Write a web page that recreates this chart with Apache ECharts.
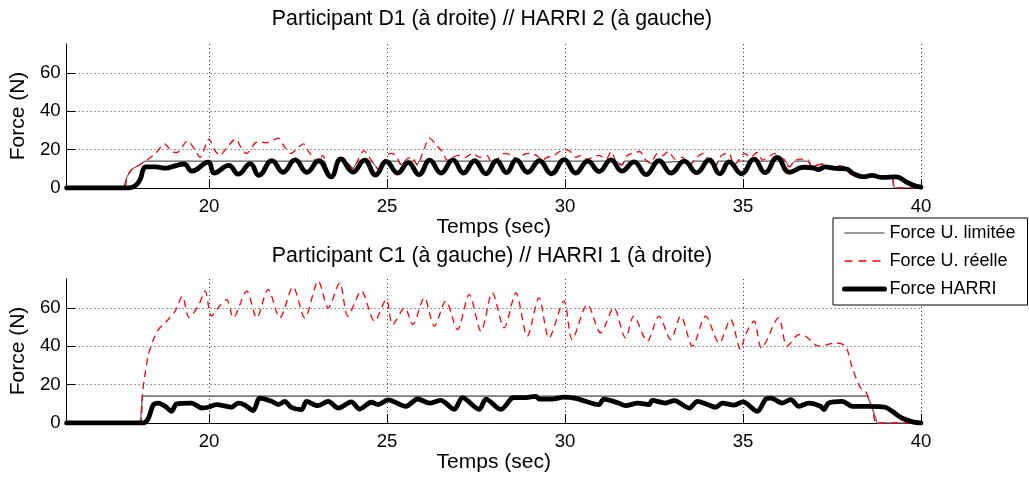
<!DOCTYPE html>
<html>
<head>
<meta charset="utf-8">
<script src="https://cdn.jsdelivr.net/npm/echarts@6/dist/echarts.min.js"></script>
<style>
  html, body { margin: 0; padding: 0; background: #fff; }
  #chart { width: 1029px; height: 487px; }
</style>
</head>
<body>
<div id="chart"></div>
<script>
// Time axis (s) and force axis (N) tick labels
const timeTicks = [20, 25, 30, 35, 40];
const forceTicks = [0, 20, 40, 60];

const seriesNames = ['Force U. limitée', 'Force U. réelle', 'Force HARRI'];
const panelTitles = [
  'Participant D1 (à droite) // HARRI 2 (à gauche)',
  'Participant C1 (à gauche) // HARRI 1 (à droite)'
];

// ---- Participant D1 / HARRI 2 : [time s, force N] ----
const d1Limited = [
  [16, 0], [17.6, 0], [17.7, 6], [17.85, 10], [18.05, 12], [18.2, 14],
  [23.0, 14], [23.05, 13], [23.09, 14], [23.25, 14], [23.3, 11], [23.45, 5.5], [23.6, 12], [23.68, 14],
  [23.85, 14], [23.9, 13], [24.05, 10], [24.17, 14], [24.58, 14], [24.65, 12], [24.8, 9], [24.93, 14],
  [25.34, 14], [25.4, 12], [25.5, 14], [25.78, 14], [25.85, 12], [25.9, 14],
  [27.91, 14], [27.95, 13], [28.03, 14], [31.43, 14], [31.45, 13], [31.6, 12], [31.66, 14],
  [32.33, 14], [32.4, 13], [32.44, 14], [33.4, 14], [33.5, 12], [33.6, 14],
  [34.05, 14], [34.2, 11], [34.3, 14], [34.7, 14], [34.75, 12], [34.85, 14],
  [36.19, 14], [36.3, 11], [36.45, 14], [36.8, 14], [36.95, 11], [37.1, 12], [37.25, 12.5],
  [37.4, 10], [37.55, 10.5], [37.7, 11.5], [37.85, 11], [38.0, 7.5], [38.2, 6.5], [38.4, 6],
  [38.6, 7], [38.8, 6], [39.0, 5.5], [39.2, 5], [39.25, 0], [40, 0]
];
const d1Real = [
  [16, 0], [17.6, 0], [17.7, 6], [17.85, 10], [18.05, 12], [18.25, 14.5], [18.5, 18], [18.75, 23],
  [18.95, 19], [19.1, 18.5], [19.4, 24.5], [19.6, 20], [19.75, 16], [20.0, 25.5], [20.15, 20],
  [20.3, 17], [20.5, 21], [20.75, 25.5], [20.9, 21], [21.05, 18], [21.3, 23.5], [21.45, 24],
  [21.6, 23.5], [21.75, 24.5], [21.95, 26], [22.1, 22], [22.3, 18], [22.5, 21], [22.65, 23],
  [22.8, 19], [22.95, 15], [23.05, 13], [23.2, 17], [23.3, 11], [23.45, 5.5], [23.6, 12],
  [23.75, 16], [23.9, 13], [24.05, 10], [24.2, 15], [24.35, 19.5], [24.5, 16], [24.65, 12],
  [24.8, 9], [24.95, 15], [25.1, 18], [25.25, 17], [25.4, 12], [25.55, 15], [25.7, 16],
  [25.85, 12], [26.0, 18], [26.2, 26], [26.4, 22], [26.55, 19], [26.7, 14.5], [26.85, 16],
  [27.0, 17], [27.2, 16], [27.4, 18], [27.6, 16], [27.8, 17], [27.95, 13], [28.1, 15],
  [28.3, 18], [28.5, 17], [28.7, 14.5], [28.85, 17.5], [29.0, 18], [29.2, 17], [29.35, 14.5],
  [29.5, 16], [29.7, 17], [29.85, 19], [30.0, 20], [30.15, 19], [30.3, 16], [30.45, 17],
  [30.6, 15], [30.8, 16], [30.95, 17], [31.15, 15], [31.3, 19], [31.45, 13], [31.6, 12],
  [31.75, 17], [31.9, 18], [32.1, 19], [32.25, 15], [32.4, 13], [32.6, 18], [32.75, 17],
  [32.9, 19], [33.1, 15], [33.3, 16], [33.5, 12], [33.7, 16], [33.9, 18], [34.05, 14],
  [34.2, 11], [34.4, 17], [34.6, 18], [34.75, 12], [34.9, 15], [35.05, 18], [35.2, 16],
  [35.4, 18.5], [35.55, 14.5], [35.7, 16], [35.9, 18], [36.05, 16], [36.15, 15], [36.3, 11],
  [36.45, 14], [36.6, 15], [36.8, 15], [36.95, 11], [37.1, 12], [37.25, 12.5], [37.4, 10],
  [37.55, 10.5], [37.7, 11.5], [37.85, 11], [38.0, 7.5], [38.2, 6.5], [38.4, 6], [38.6, 7],
  [38.8, 6], [39.0, 5.5], [39.2, 5], [39.25, 0], [40, 0]
];
const d1Harri = [
  [16, 0], [17.75, 0], [17.9, 0.8], [18.0, 2.5], [18.08, 5], [18.15, 9.5], [18.22, 11], [18.5, 11],
  [18.8, 10.3], [19.0, 11.3], [19.3, 12.5], [19.52, 8.8], [19.98, 13.5], [20.15, 7.8], [20.56, 11.8],
  [20.82, 7.2], [21.16, 12.7], [21.4, 6.6], [21.77, 14.3], [22.08, 8.2], [22.42, 14.6], [22.75, 8.2],
  [23.08, 14.2], [23.43, 5.8], [23.7, 15.2], [24.05, 8.3], [24.37, 14.5], [24.68, 6.8], [24.98, 13.8],
  [25.3, 7.8], [25.6, 13.2], [25.9, 7], [26.2, 14.5], [26.52, 7.8], [26.85, 14.6], [27.15, 7.8],
  [27.46, 14.2], [27.78, 7.4], [28.08, 14.2], [28.36, 8], [28.63, 14.6], [28.95, 8.2], [29.28, 14.2],
  [29.62, 7.4], [29.98, 14.8], [30.3, 7.8], [30.64, 14], [30.96, 8.6], [31.29, 14.6], [31.6, 8.8],
  [31.94, 13.6], [32.28, 7], [32.64, 14.2], [32.98, 7.8], [33.35, 14], [33.7, 8], [34.05, 14.6],
  [34.35, 7.4], [34.61, 13.6], [34.96, 7.4], [35.31, 15], [35.62, 8], [35.96, 16], [36.3, 8.2],
  [36.7, 10.8], [37.0, 10.4], [37.12, 9.6], [37.3, 11], [37.6, 10.2], [37.9, 10], [38.1, 7.5],
  [38.4, 5.8], [38.62, 6.6], [38.9, 5.5], [39.3, 5.8], [39.6, 3], [39.85, 1], [40, 0.4]
];

// ---- Participant C1 / HARRI 1 : [time s, force N] ----
const c1Limited = [
  [16, 0], [18.07, 0], [18.13, 14], [38.5, 14], [38.63, 7.8], [38.77, 0], [40, 0]
];
const c1Real = [
  [16, 0], [18.07, 0], [18.13, 14.8], [18.2, 25], [18.3, 35.7], [18.44, 43.5], [18.58, 48.7],
  [18.81, 53], [19.05, 58.3], [19.25, 66], [19.44, 55], [19.7, 61], [19.89, 68.7], [20.07, 55.7],
  [20.3, 61], [20.5, 64.3], [20.68, 54.8], [21.06, 68.7], [21.34, 54.8], [21.66, 69.6], [21.99, 54.8],
  [22.36, 70.8], [22.69, 54.8], [23.07, 73.9], [23.35, 60], [23.67, 73], [23.9, 55.7], [24.28, 68.7],
  [24.65, 53], [24.98, 64.3], [25.16, 51.3], [25.5, 60], [25.72, 51.3], [26.05, 65.2], [26.33, 50.4],
  [26.65, 63.5], [26.98, 48.7], [27.31, 67], [27.64, 47.8], [27.96, 67.8], [28.29, 49.6],
  [28.62, 67.8], [28.94, 45.2], [29.27, 65.2], [29.55, 44.3], [29.97, 63.5], [30.2, 43.5],
  [30.63, 61.7], [31.0, 47], [31.37, 60], [31.7, 44.3], [31.93, 55.7], [32.31, 42.6], [32.64, 55.7],
  [32.97, 43.5], [33.25, 55.7], [33.58, 40], [33.95, 55.7], [34.33, 41.7], [34.65, 53.9],
  [34.93, 38.3], [35.07, 46], [35.31, 53], [35.52, 39.1], [36.0, 54.8], [36.24, 40], [36.57, 46],
  [36.76, 45.2], [37.13, 40], [37.6, 41.7], [37.88, 40], [38.07, 28.7], [38.3, 18.3], [38.44, 16.5],
  [38.63, 7.8], [38.77, 0], [40, 0]
];
const c1Harri = [
  [16, 0], [18.16, 0], [18.3, 2.6], [18.44, 9.6], [18.58, 10.4], [18.77, 8.7], [18.95, 6.1], [19.09, 10],
  [19.51, 10.4], [19.8, 7.8], [19.98, 8.2], [20.21, 9.6], [20.64, 8.3], [20.82, 10.4], [21.0, 9.5],
  [21.24, 6.4], [21.43, 13], [21.76, 11.3], [21.95, 9.6], [22.13, 11.3], [22.3, 8.3], [22.6, 7],
  [22.74, 11.3], [23.05, 9], [23.35, 11.3], [23.63, 7.8], [24.0, 11], [24.23, 7.3], [24.56, 10.8],
  [24.75, 9.6], [25.03, 12], [25.53, 8.7], [25.86, 12.5], [26.2, 10.4], [26.51, 11.8], [26.89, 7.1],
  [27.12, 13.2], [27.59, 7.1], [27.78, 12.4], [28.2, 7.1], [28.48, 12.5], [28.52, 13.2], [28.9, 13.2],
  [29.18, 13.9], [29.28, 12.4], [29.64, 12.4], [29.97, 13.5], [30.3, 12.8], [30.58, 11.3], [30.95, 9.6],
  [31.09, 12.4], [31.5, 10.4], [31.7, 9], [32.05, 10.4], [32.36, 9.6], [32.45, 11.8], [32.82, 10.4],
  [33.07, 11.7], [33.49, 7.8], [33.72, 11.3], [34.0, 9.6], [34.23, 8.2], [34.42, 10.4], [34.75, 9.3],
  [35.0, 11], [35.4, 6.1], [35.64, 12.5], [35.78, 13], [36.1, 10.4], [36.34, 12.2], [36.57, 8.7],
  [36.85, 10.4], [37.18, 8.7], [37.27, 7], [37.41, 10.4], [37.79, 11.3], [38.07, 8.7], [38.53, 8.7],
  [39.0, 8.2], [39.19, 6.1], [39.46, 2.6], [39.83, 0.3], [40, 0]
];

const FONT = '"Liberation Sans", Arial, Helvetica, sans-serif';
const dotted = { type: [1, 3], color: '#3a3a3a', width: 1 };

function xAxisFor(i) {
  return {
    type: 'value', gridIndex: i, min: 16, max: 40,
    name: 'Temps (sec)', nameLocation: 'middle', nameGap: 28,
    nameTextStyle: { fontFamily: FONT, fontSize: 21, color: '#000' },
    axisLine: { lineStyle: { color: '#000', width: 1 } },
    axisTick: { inside: true, length: 9, lineStyle: { color: '#000' }, customValues: timeTicks },
    axisLabel: { customValues: timeTicks, fontFamily: FONT, fontSize: 18.6, color: '#000', margin: 9 },
    splitLine: { show: true, lineStyle: dotted }
  };
}
function yAxisFor(i) {
  return {
    type: 'value', gridIndex: i, min: 0, max: 75,
    name: 'Force (N)', nameLocation: 'middle', nameGap: 27,
    nameTextStyle: { fontFamily: FONT, fontSize: 21, color: '#000' },
    axisLine: { show: true, lineStyle: { color: '#000', width: 1 } },
    axisTick: { show: true, inside: true, length: 9, lineStyle: { color: '#000' }, customValues: forceTicks },
    axisLabel: { customValues: forceTicks, fontFamily: FONT, fontSize: 18.6, color: '#000', margin: 6 },
    splitLine: { show: true, lineStyle: dotted }
  };
}

function panelSeries(i, limited, real, harri, limitedColor, limitedWidth) {
  return [
    {
      name: seriesNames[0], type: 'line', xAxisIndex: i, yAxisIndex: i, data: limited,
      symbol: 'none', lineStyle: { color: limitedColor, width: limitedWidth },
      itemStyle: { color: limitedColor }, z: 2
    },
    {
      name: seriesNames[1], type: 'line', xAxisIndex: i, yAxisIndex: i, data: real,
      symbol: 'none', smooth: 0.3,
      lineStyle: { color: '#ff0000', width: 1.3, type: [7, 5] },
      itemStyle: { color: '#ff0000' }, z: 3
    },
    {
      name: seriesNames[2], type: 'line', xAxisIndex: i, yAxisIndex: i, data: harri,
      symbol: 'none', smooth: i === 0 ? 0.45 : 0.3,
      lineStyle: { color: '#000', width: 4.8, cap: 'round', join: 'round' },
      itemStyle: { color: '#000' }, z: 4
    }
  ];
}

const chart = echarts.init(document.getElementById('chart'), null, { renderer: 'canvas' });
chart.setOption({
  animation: false,
  backgroundColor: '#fff',
  title: [
    { text: panelTitles[0], left: 492, top: 9, textAlign: 'center', padding: 0,
      textStyle: { fontFamily: FONT, fontSize: 21.3, fontWeight: 'normal', color: '#000' } },
    { text: panelTitles[1], left: 492, top: 246, textAlign: 'center', padding: 0,
      textStyle: { fontFamily: FONT, fontSize: 21.3, fontWeight: 'normal', color: '#000' } }
  ],
  grid: [
    { left: 64, top: 44, width: 857, height: 144 },
    { left: 64, top: 279, width: 857, height: 144 }
  ],
  legend: {
    data: [
      { name: seriesNames[0], lineStyle: { color: '#333', width: 1 } },
      { name: seriesNames[1], lineStyle: { color: '#ff0000', width: 1.5, type: [8, 6] } },
      { name: seriesNames[2], lineStyle: { color: '#000', width: 5 } }
    ],
    orient: 'vertical', left: 833, top: 218,
    padding: [6, 12, 7, 9], itemWidth: 40, itemHeight: 14, itemGap: 10,
    backgroundColor: '#fff', borderColor: '#000', borderWidth: 1, borderRadius: 0,
    selectedMode: false,
    itemStyle: { opacity: 0, borderWidth: 0 },
    textStyle: { fontFamily: FONT, fontSize: 18, color: '#000', lineHeight: 18 }
  },
  xAxis: [xAxisFor(0), xAxisFor(1)],
  yAxis: [yAxisFor(0), yAxisFor(1)],
  series: [
    ...panelSeries(0, d1Limited, d1Real, d1Harri, '#333', 1),
    ...panelSeries(1, c1Limited, c1Real, c1Harri, '#7a7a7a', 1.6)
  ]
});
</script>
</body>
</html>
